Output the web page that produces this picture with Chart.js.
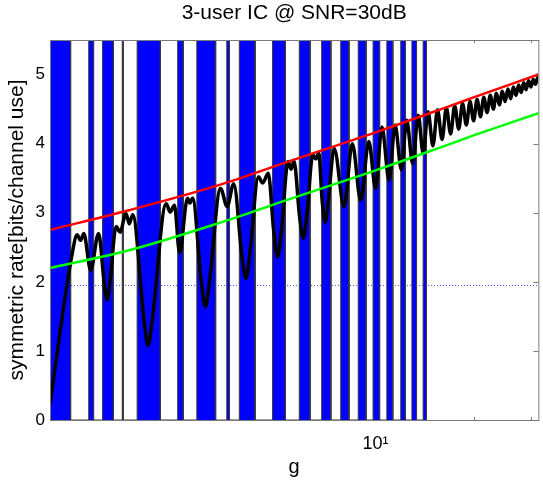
<!DOCTYPE html>
<html>
<head>
<meta charset="utf-8">
<title>3-user IC @ SNR=30dB</title>
<script src="https://cdn.jsdelivr.net/npm/chart.js@4.4.1/dist/chart.umd.min.js"></script>
<style>
  html, body { margin: 0; padding: 0; background: #ffffff; overflow: hidden; }
  #plot { display: block; }
</style>
</head>
<body>
<canvas id="plot" width="544" height="482"></canvas>
<script>
// ---- data ---------------------------------------------------------------
// g intervals shaded in blue
const bandStart = [1.000, 1.315, 1.450, 1.667, 1.852, 2.467, 2.825, 3.492, 3.815, 4.826,
                   5.830, 6.830, 7.816, 8.845, 9.824, 10.83, 11.95, 12.93, 14.00];
const bandEnd   = [1.157, 1.361, 1.566, 1.678, 2.182, 2.567, 3.227, 3.558, 4.267, 5.285,
                   6.295, 7.292, 8.289, 9.354, 10.29, 11.30, 12.35, 13.36, 14.33];

// upper (red) and lower (green) bounds
const boundG     = [1.00, 1.76, 3.30, 5.39, 10.1, 16.8, 20.3, 31.62];
const upperBound = [2.75, 3.04, 3.40, 3.74, 4.17, 4.54, 4.68, 5.00];
const lowerBound = [2.20, 2.46, 2.85, 3.19, 3.62, 3.99, 4.13, 4.44];

// achievable symmetric rate (black)
const rateG = [1.000, 1.171, 1.212, 1.241, 1.270, 1.333, 1.410, 1.469, 1.500, 1.532,
               1.596, 1.641, 1.712, 1.752, 1.794, 1.945, 2.000, 2.057, 2.275, 2.339,
               2.411, 2.500, 2.645, 2.690, 2.740, 2.917, 3.000, 3.085, 3.341, 3.500,
               3.666, 3.889, 4.000, 4.114, 4.366, 4.500, 4.682, 4.862, 5.000, 5.142,
               5.385, 5.500, 5.615, 5.834, 6.000, 6.170, 6.414, 6.550, 6.689, 6.855,
               7.000, 7.148, 7.464, 8.000, 8.484, 9.000, 9.534, 10.00, 10.46, 11.00,
               11.48, 12.00, 12.46, 13.00, 13.52, 14.00, 14.50, 15.00, 15.50, 16.00,
               16.50, 17.00, 17.50, 18.00, 18.50, 19.00, 19.50, 20.00, 20.50, 21.00,
               21.50, 22.00, 22.50, 23.00, 23.50, 24.00, 24.50, 25.00, 25.50, 26.00,
               26.50, 27.00, 27.50, 28.00, 28.50, 29.00, 29.50, 30.00, 30.50, 31.00,
               31.50, 31.62];
const rate  = [0.24, 2.42, 2.68, 2.60, 2.70, 2.17, 2.70, 1.96, 1.74, 2.05,
               2.80, 2.72, 2.99, 2.84, 2.97, 1.44, 1.08, 1.41, 3.13, 3.01,
               3.11, 2.42, 3.21, 3.14, 3.21, 1.99, 1.64, 1.98, 3.35, 3.09,
               3.42, 2.36, 2.05, 2.43, 3.52, 3.43, 3.57, 2.75, 2.36, 2.75,
               3.74, 3.63, 3.75, 2.97, 2.63, 3.03, 3.84, 3.78, 3.86, 3.17,
               2.86, 3.15, 3.93, 3.09, 4.00, 3.18, 4.03, 3.35, 4.24, 3.47,
               4.27, 3.62, 4.34, 3.71, 4.41, 3.86, 4.46, 3.97, 4.49, 4.06,
               4.52, 4.14, 4.55, 4.21, 4.58, 4.27, 4.61, 4.33, 4.64, 4.39,
               4.67, 4.45, 4.70, 4.50, 4.73, 4.56, 4.76, 4.61, 4.79, 4.65,
               4.82, 4.70, 4.85, 4.74, 4.88, 4.78, 4.91, 4.82, 4.93, 4.86,
               4.96, 4.93];

// dotted reference level
const refLevel = 1.947;

// axis extents and ticks
const gRange = [1, 31.6228];
const rateRange = [0, 5.5];
const gTicks = [1, 2, 3, 4, 5, 6, 7, 8, 9, 10, 20, 30];
const rateTicks = [0, 1, 2, 3, 4, 5];

// ---- helpers ------------------------------------------------------------
const pairs = (xs, ys) => xs.map((x, i) => ({ x: x, y: ys[i] }));

// each band becomes a rectangle that rises from 0 to the top of the axes
const bandOutline = [];
bandStart.forEach((a, i) => {
  const b = bandEnd[i];
  bandOutline.push({ x: a, y: 0 }, { x: a, y: rateRange[1] },
                   { x: b, y: rateRange[1] }, { x: b, y: 0 });
});

const FONT = "'Liberation Sans', Arial, Helvetica, sans-serif";
const AXIS_GRAY = '#7a7a7a';

// inward tick marks (under the data) and the axes box (over the data)
const axesBox = {
  id: 'axesBox',
  beforeDatasetsDraw(chart) {
    const { ctx, chartArea: a, scales: { x, y } } = chart;
    ctx.save();
    ctx.strokeStyle = AXIS_GRAY;
    ctx.lineWidth = 1;
    ctx.beginPath();
    x.ticks.forEach(t => {
      const px = Math.round(x.getPixelForValue(t.value)) + 0.5;
      const len = t.value === 10 ? 5 : 3;
      ctx.moveTo(px, a.bottom); ctx.lineTo(px, a.bottom - len);
      ctx.moveTo(px, a.top); ctx.lineTo(px, a.top + len);
    });
    y.ticks.forEach(t => {
      const py = Math.round(y.getPixelForValue(t.value)) + 0.5;
      ctx.moveTo(a.left, py); ctx.lineTo(a.left + 5, py);
      ctx.moveTo(a.right, py); ctx.lineTo(a.right - 5, py);
    });
    ctx.stroke();
    ctx.restore();
  },
  afterDatasetsDraw(chart) {
    const { ctx, chartArea: a } = chart;
    ctx.save();
    ctx.strokeStyle = AXIS_GRAY;
    ctx.lineWidth = 1;
    ctx.strokeRect(a.left + 0.5, a.top + 0.5, a.right - a.left, a.bottom - a.top);
    ctx.restore();
  }
};

new Chart(document.getElementById('plot'), {
  type: 'line',
  data: {
    datasets: [
      { // upper bound
        data: pairs(boundG, upperBound),
        borderColor: '#ff0000', borderWidth: 2.5,
        pointRadius: 0, cubicInterpolationMode: 'monotone', fill: false
      },
      { // lower bound
        data: pairs(boundG, lowerBound),
        borderColor: '#00ff00', borderWidth: 2.5,
        pointRadius: 0, cubicInterpolationMode: 'monotone', fill: false
      },
      { // achievable rate
        data: pairs(rateG, rate),
        borderColor: '#000000', borderWidth: 3.5,
        pointRadius: 0, cubicInterpolationMode: 'monotone', fill: false,
        borderJoinStyle: 'round'
      },
      { // shaded g intervals
        data: bandOutline,
        borderColor: '#3a3a3a', borderWidth: 1,
        backgroundColor: '#0000ff',
        pointRadius: 0, tension: 0, fill: 'origin'
      },
      { // dotted level
        data: [{ x: gRange[0], y: refLevel }, { x: gRange[1], y: refLevel }],
        borderColor: '#4455ff', borderWidth: 1, borderDash: [1, 2],
        pointRadius: 0, fill: false
      }
    ]
  },
  options: {
    responsive: false,
    animation: false,
    devicePixelRatio: 1,
    layout: { padding: 0 },
    plugins: {
      legend: { display: false },
      tooltip: { enabled: false },
      title: {
        display: true,
        text: '3-user IC @ SNR=30dB',
        fullSize: false,
        color: '#000000',
        font: { family: FONT, size: 21, weight: 'normal' },
        padding: { top: 1, bottom: 13.8 }
      }
    },
    scales: {
      x: {
        type: 'logarithmic',
        min: gRange[0], max: gRange[1],
        grid: { display: false, drawTicks: false },
        border: { display: false },
        afterBuildTicks: s => { s.ticks = gTicks.map(v => ({ value: v })); },
        afterFit: s => { s.height = 62; },
        ticks: {
          autoSkip: false, maxRotation: 0, minRotation: 0, padding: 13,
          color: '#000000',
          font: { family: FONT, size: 18 },
          callback: v => (v === 10 ? '10\u00B9' : '')
        },
        title: {
          display: true, text: 'g', color: '#000000',
          font: { family: FONT, size: 20 },
          padding: { top: 0, bottom: 3 }
        }
      },
      y: {
        min: rateRange[0], max: rateRange[1],
        grid: { display: false, drawTicks: false },
        border: { display: false },
        afterBuildTicks: s => { s.ticks = rateTicks.map(v => ({ value: v })); },
        afterFit: s => { s.width = 50; },
        ticks: {
          padding: 5, color: '#000000',
          font: { family: FONT, size: 17 },
          callback: v => String(v)
        },
        title: {
          display: true, text: 'symmetric rate[bits/channel use]', color: '#000000',
          font: { family: FONT, size: 21 },
          padding: { top: 5, bottom: 0 }
        }
      }
    }
  },
  plugins: [axesBox]
});
</script>
</body>
</html>
